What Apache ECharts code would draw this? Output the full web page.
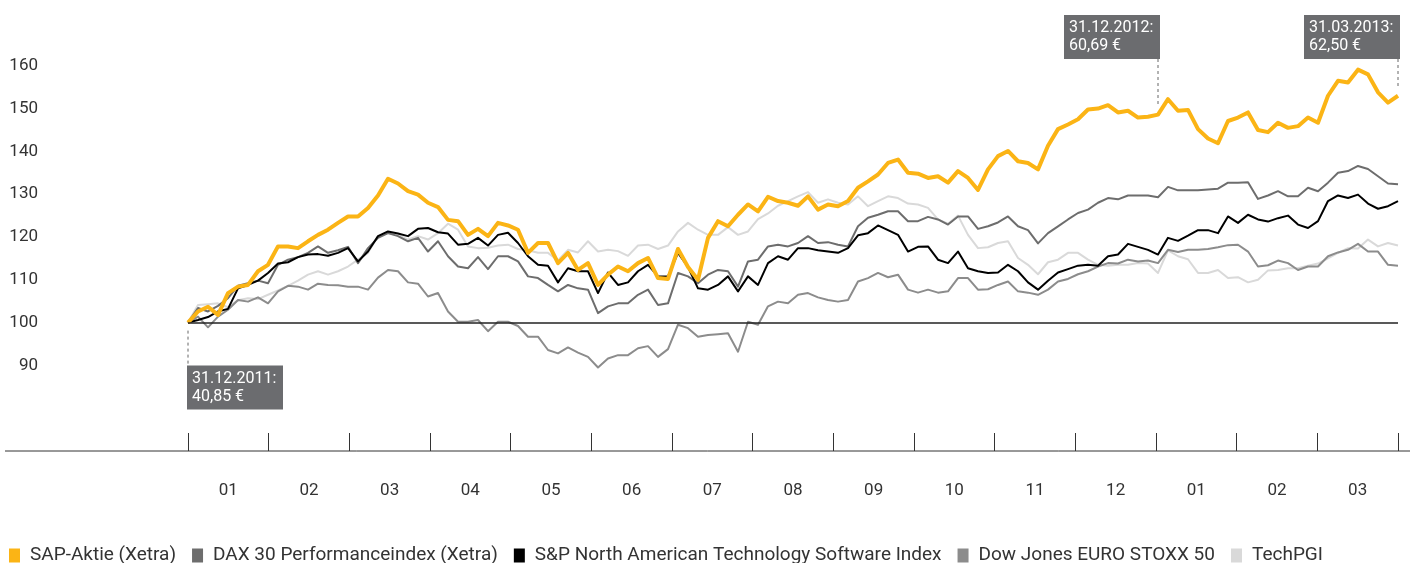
<!DOCTYPE html>
<html style="height: 100%">
<head>
    <meta charset="utf-8">
    <script src="https://cdn.jsdelivr.net/npm/echarts@6/dist/echarts.min.js"></script>
</head>
<body style="height: 100%; margin: 0; background: #fff">
    <div id="main" style="width: 1416px; height: 563px;"></div>
    <script type="text/javascript">
    // Monatsachse (Dez 2011 = 100)
    var months = ['01', '02', '03', '04', '05', '06', '07', '08', '09', '10', '11', '12', '01', '02', '03'];

    // Stützstellen vom 31.12.2011 bis 31.03.2013
    var sap = [100, 102.6, 103.7, 101.8, 106.9, 108.4, 108.8, 112, 113.5, 117.8, 117.8,
        117.4, 119, 120.5, 121.7, 123.3, 124.8, 124.8, 126.8, 129.7, 133.6,
        132.5, 130.7, 129.9, 128, 127, 124, 123.7, 120.5, 121.9, 120.2,
        123.3, 122.7, 121.7, 116.3, 118.6, 118.6, 113.9, 116.3, 112.3, 113.9,
        108.8, 111.2, 113.1, 112, 113.9, 115.1, 110.4, 110.2, 117.2, 113,
        110, 119.8, 123.7, 122.5, 125.2, 127.6, 126, 129.4, 128.4, 128,
        127.3, 129.5, 126.4, 127.6, 127.2, 128.4, 131.5, 133, 134.6, 137.3,
        138.1, 135, 134.8, 133.8, 134.2, 132.7, 135.4, 133.8, 131, 135.8,
        138.9, 140.1, 137.7, 137.3, 135.8, 141.3, 145.2, 146.3, 147.5, 149.8,
        150, 150.8, 149.1, 149.5, 147.9, 148.1, 148.6, 152.2, 149.5, 149.7,
        145.2, 143, 141.9, 147.1, 147.9, 149.1, 145, 144.5, 146.7, 145.5,
        145.9, 147.9, 146.7, 153, 156.5, 156.1, 159.1, 158, 153.8, 151.4, 153];
    var dax = [100, 103.4, 102.6, 103.9, 105.7, 108.6, 109.2, 109.8, 109.2, 113.5, 114.7,
        115.3, 116.3, 117.8, 116.3, 116.9, 117.7, 113.9, 117.4, 119.8, 120.9,
        120.2, 119, 119.8, 116.6, 119, 115.5, 113.1, 112.7, 115.3, 112.5,
        115.5, 115.5, 114.3, 110.8, 110.4, 108.8, 107.3, 108.8, 108, 107.7,
        102.2, 103.8, 104.5, 104.5, 106.5, 107.7, 104.1, 104.5, 111.6, 110.8,
        109.2, 111.2, 112.3, 112, 108.4, 114.3, 114.7, 117.8, 118.2, 117.8,
        118.6, 120.2, 118.6, 118.8, 118.2, 117.8, 122.5, 124.5, 125.2, 126,
        126, 123.7, 123.7, 124.7, 124.1, 122.9, 124.8, 124.8, 121.9, 122.5,
        123.4, 124.8, 122.5, 121.6, 118.5, 120.9, 122.5, 124.1, 125.6, 126.4,
        128, 129.1, 128.8, 129.7, 129.7, 129.7, 129.3, 131.7, 130.9, 130.9,
        130.9, 131.1, 131.3, 132.7, 132.7, 132.8, 128.9, 129.7, 130.7, 129.5,
        129.5, 131.5, 130.7, 132.7, 135, 135.4, 136.6, 135.9, 134.2, 132.5, 132.3];
    var spTech = [100, 100.6, 101.3, 102.6, 103.2, 108, 108.8, 109.8, 111.6, 113.8, 114.1,
        115.3, 115.9, 116, 115.6, 116.3, 117.4, 114.3, 116.6, 120.2, 121.3,
        120.8, 120.2, 121.9, 122.1, 121.1, 120.8, 118.2, 118.4, 119.8, 118,
        120.5, 121, 118.6, 115.5, 113.5, 113.3, 109.4, 112.7, 112, 112,
        106.9, 111.7, 108.8, 109.4, 112, 113.5, 110.8, 110.8, 116.3, 113,
        108, 107.7, 108.8, 110.8, 107.3, 110.8, 108.8, 113.9, 115.5, 114.7,
        117.4, 117.4, 116.9, 116.6, 116.3, 117.4, 120.4, 120.9, 122.7, 121.6,
        120.5, 116.6, 117.7, 117.8, 114.7, 113.9, 116.6, 112.7, 112, 111.6,
        111.7, 113.5, 112, 109.4, 107.7, 109.8, 111.7, 112.5, 113.3, 113.5,
        113.3, 115.5, 115.9, 118.4, 117.7, 117, 115.9, 119.8, 119.1, 120.3,
        121.6, 121.6, 120.9, 124.8, 123.3, 125.2, 124.1, 123.6, 124.4, 125,
        122.9, 122.1, 123.7, 128.4, 129.7, 129.1, 129.9, 127.8, 126.6, 127.2, 128.4];
    var stoxx = [100, 101.4, 98.9, 101.4, 103, 105.3, 104.9, 105.9, 104.5, 107.3, 108.6,
        108.4, 107.7, 109.1, 108.8, 108.7, 108.4, 108.4, 107.7, 110.5, 112.3,
        112, 109.4, 109.1, 106.1, 106.9, 102.6, 100.2, 100.2, 100.6, 98,
        100.2, 100.2, 99.2, 96.7, 96.7, 93.6, 92.8, 94.2, 93, 92,
        89.5, 91.6, 92.4, 92.4, 94, 94.5, 92, 93.8, 99.5, 98.7,
        96.7, 97.1, 97.3, 97.5, 93.2, 100.2, 99.5, 103.8, 104.9, 104.5,
        106.5, 106.9, 105.9, 105.3, 104.9, 105.3, 109.6, 110.4, 111.6, 110.6,
        111.2, 107.7, 107, 107.7, 107, 107.3, 110.4, 110.4, 107.7, 107.8,
        108.8, 109.6, 107.3, 107, 106.5, 107.7, 109.6, 110.2, 111.3, 112,
        113.1, 113.9, 113.8, 114.7, 114.3, 114.5, 113.9, 117, 116.5, 117,
        117, 117.2, 117.6, 118.1, 118.2, 116.6, 113.1, 113.4, 114.5, 113.9,
        112.3, 113.1, 113.1, 115.5, 116.4, 117, 118.4, 116.6, 116.6, 113.5, 113.3];
    var techPgi = [100, 104.1, 104.3, 104.5, 103.6, 105.2, 105.7, 105.5, 106.5, 107.5, 108.6,
        109.8, 111.2, 112, 111.2, 112, 113.1, 114.7, 116.3, 120.2, 120.9,
        120.5, 119.4, 120.2, 119.4, 120.9, 123.1, 121.7, 117.8, 117.4, 117.5,
        118, 118.2, 117.2, 116.9, 116.3, 116.3, 114.5, 117, 116.4, 119,
        116.6, 117, 116.7, 115.6, 118, 118.2, 117.2, 118, 121.3, 123.3,
        121.7, 120.5, 120.5, 122.3, 120.5, 121.3, 124.2, 125.5, 127.3, 128.4,
        129.5, 130.5, 128, 128.8, 128, 127.6, 129.5, 127.2, 128.4, 129.5,
        129.1, 127.8, 127.6, 126.8, 124.1, 123.1, 125, 120.5, 117.4, 117.6,
        118.6, 119, 115.1, 113.5, 111.3, 114.1, 114.7, 116.3, 116.3, 114.7,
        113.5, 113.3, 113.5, 113.5, 113.9, 113.8, 111.6, 116.9, 115.5, 114.8,
        111.6, 111.6, 112.3, 110.4, 110.6, 109.4, 110, 112.2, 112.3, 112.7,
        112.7, 113.3, 113.8, 115, 116.3, 117.4, 117.3, 119.4, 117.8, 118.6, 118];

    // Anmerkungen am SAP-Kurs: Stützstelle, Datum, Kurs
    var notes = [
        { idx: 0, date: '31.12.2011:', price: '40,85 €' },
        { idx: 97, date: '31.12.2012:', price: '60,69 €' },
        { idx: 121, date: '31.03.2013:', price: '62,50 €' }
    ];

    var steps = sap.map(function(v, i) { return String(i); });
    var font = 'Roboto';

    var chart = echarts.init(document.getElementById('main'));

    function line(name, data, color, width) {
        return {
            name: name,
            type: 'line',
            xAxisIndex: 1,
            data: data,
            symbol: 'none',
            animation: false,
            lineStyle: { color: color, width: width, join: 'round' },
            itemStyle: { color: color }
        };
    }

    var base = line('TechPGI', techPgi, '#d9d9d9', 2);
    base.markLine = {
        silent: true,
        symbol: 'none',
        label: { show: false },
        lineStyle: { color: '#222', width: 1.5, type: 'solid' },
        data: [{ yAxis: 100 }]
    };

    var option = {
        animation: false,
        grid: { left: 188, right: 18, top: 23, bottom: 112 },
        legend: {
            left: 4,
            top: 541,
            icon: 'rect',
            itemWidth: 11,
            itemHeight: 14,
            itemGap: 16,
            textStyle: { fontFamily: font, fontSize: 19, color: '#333', padding: [0, 0, 0, 5] },
            data: ['SAP-Aktie (Xetra)', 'DAX 30 Performanceindex (Xetra)',
                'S&P North American Technology Software Index', 'Dow Jones EURO STOXX 50', 'TechPGI']
        },
        xAxis: [{
            type: 'category',
            data: months,
            boundaryGap: true,
            axisLine: { show: false },
            axisTick: { show: true, inside: true, length: 18, lineStyle: { color: '#333', width: 1 } },
            axisLabel: { margin: 31, fontFamily: font, fontSize: 17, color: '#333' },
            splitLine: { show: false }
        }, {
            type: 'category',
            data: steps,
            boundaryGap: false,
            show: false
        }],
        yAxis: {
            type: 'value',
            min: 70,
            max: 170,
            interval: 10,
            axisLine: { show: false },
            axisTick: { show: false },
            splitLine: { show: false },
            axisLabel: {
                margin: 150,
                fontFamily: font,
                fontSize: 17,
                color: '#333',
                formatter: function(v) { return (v >= 90 && v <= 160) ? v : ''; }
            }
        },
        series: [
            base,
            line('Dow Jones EURO STOXX 50', stoxx, '#8c8c8c', 2),
            line('DAX 30 Performanceindex (Xetra)', dax, '#6d6d6d', 2),
            line('S&P North American Technology Software Index', spTech, '#000000', 2),
            line('SAP-Aktie (Xetra)', sap, '#fbb415', 4)
        ]
    };

    chart.setOption(option);

    // Grundlinie und Kurs-Kästchen
    var bottomY = chart.convertToPixel({ yAxisIndex: 0 }, 70);
    var gfx = [{
        type: 'line',
        shape: { x1: 5, y1: bottomY, x2: 1410, y2: bottomY },
        style: { stroke: '#333', lineWidth: 1 }
    }];

    notes.forEach(function(n, i) {
        var p = chart.convertToPixel({ xAxisIndex: 1, yAxisIndex: 0 }, [n.idx, sap[n.idx]]);
        var w = 96, h = 44, bx, by, y1, y2;
        if (i === 0) {
            bx = p[0] - 1; by = p[1] + 43;
            y1 = p[1] + 8; y2 = by;
        } else {
            bx = p[0] + 2 - w; by = 15;
            y1 = by + h; y2 = p[1] - 9;
        }
        gfx.push({
            type: 'line',
            shape: { x1: p[0], y1: y1, x2: p[0], y2: y2 },
            style: { stroke: '#666', lineWidth: 1, lineDash: [3, 3] }
        });
        gfx.push({
            type: 'rect',
            shape: { x: bx, y: by, width: w, height: h },
            style: { fill: '#6b6c6f' }
        });
        gfx.push({
            type: 'text',
            x: bx + 5,
            y: by + 4,
            style: {
                text: n.date + '\n' + n.price,
                fill: '#fff',
                fontFamily: font,
                fontSize: 16,
                lineHeight: 18
            }
        });
    });

    chart.setOption({ graphic: gfx });
    </script>
</body>
</html>
